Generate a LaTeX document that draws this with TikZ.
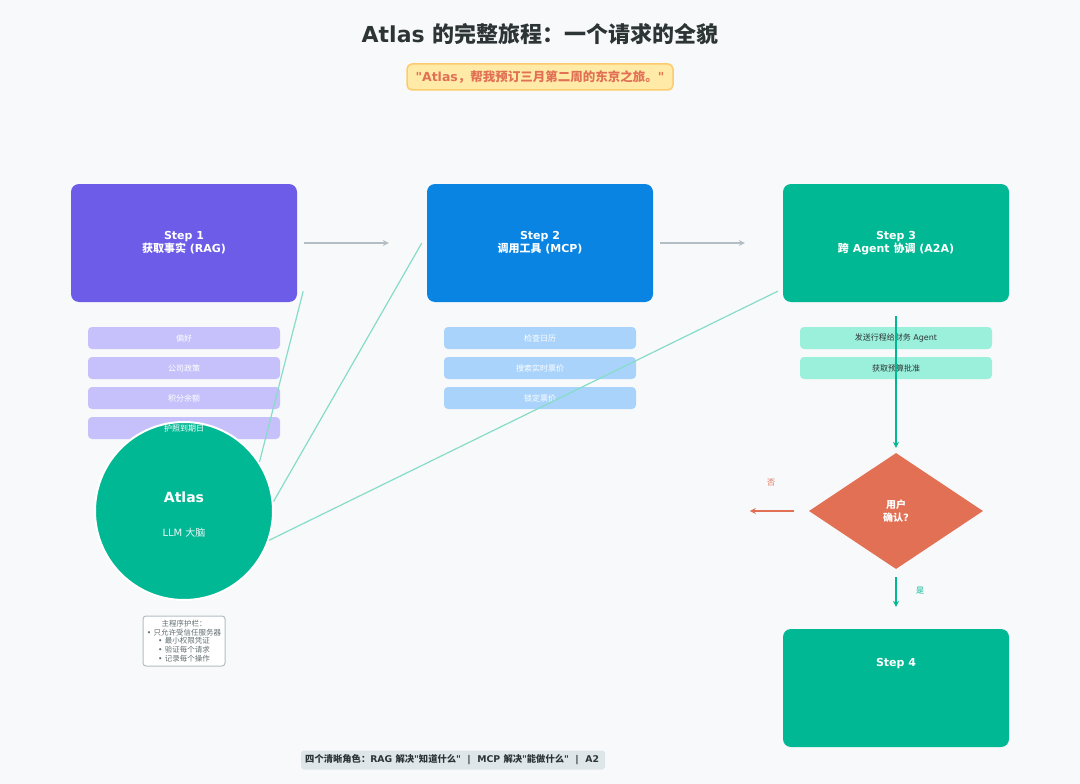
\documentclass[tikz,border=0pt]{standalone}
\usepackage{fontspec}
\setmainfont{DejaVu Sans}[Ligatures=TeXOff]
\newfontfamily\cjk{Noto Sans CJK SC}[Ligatures=TeXOff]
\usetikzlibrary{shapes.geometric,arrows.meta,calc}
\definecolor{bgc}{HTML}{F8F9FA}
\definecolor{purp}{HTML}{6C5CE7}
\definecolor{blu}{HTML}{0984E3}
\definecolor{grn}{HTML}{00B894}
\definecolor{org}{HTML}{E17055}
\definecolor{gry}{HTML}{B2BEC3}
\definecolor{dark}{HTML}{2D3436}
\definecolor{mid}{HTML}{636E72}
\definecolor{lpurp}{HTML}{C6C1FA}
\definecolor{lblu}{HTML}{A9D3FB}
\definecolor{lgrn}{HTML}{9AF0DA}
\definecolor{linec}{HTML}{86DCC9}
\definecolor{qfill}{HTML}{FFEAA7}
\definecolor{qdraw}{HTML}{FDCB6E}
\definecolor{capf}{HTML}{DFE6E9}
\tikzset{
  stepbox/.style={rounded corners=8pt, minimum width=226pt, minimum height=118pt, inner sep=0pt, text=white, font=\bfseries\fontsize{11}{13}\selectfont, align=center},
  subbox/.style={rounded corners=4pt, minimum width=192pt, minimum height=22pt, inner sep=0pt, text=white, font=\fontsize{8}{10}\selectfont},
  flowarrow/.style={gry, line width=2.5pt, -{Stealth[length=6pt,width=6pt]}},
  linkline/.style={linec, line width=1.2pt},
}
\begin{document}
\begin{tikzpicture}[x=1pt,y=-1pt]
\fill[bgc] (0,0) rectangle (1080,784);
\useasboundingbox (0,0) rectangle (1080,784);

% title
\node[text=dark, font=\bfseries\fontsize{22}{26}\selectfont] (title) at (540,34) {Atlas {\cjk\bfseries 的完整旅程：一个请求的全貌}};
\node[fill=qfill, draw=qdraw, line width=1.5pt, rounded corners=5pt, minimum width=266pt, minimum height=26pt, inner sep=0pt, text=org, font=\bfseries\fontsize{12.5}{15}\selectfont] (quote) at (540,77) {"Atlas{\cjk\bfseries ，帮我预订三月第二周的东京之旅。}"};

% steps
\node[stepbox, fill=purp] (s1) at (184,243) {Step 1\\{\cjk\bfseries 获取事实} (RAG)};
\node[stepbox, fill=blu] (s2) at (540,243) {Step 2\\{\cjk\bfseries 调用工具} (MCP)};
\node[stepbox, fill=grn] (s3) at (896,243) {Step 3\\{\cjk\bfseries 跨} Agent {\cjk\bfseries 协调} (A2A)};

\draw[flowarrow] ($(s1.east)+(7,0)$) -- ($(s2.west)+(-38,0)$);
\draw[flowarrow] ($(s2.east)+(7,0)$) -- ($(s3.west)+(-38,0)$);

% sub boxes step 1
\node[subbox, fill=lpurp] (a1) at (184,338) {\cjk 偏好};
\node[subbox, fill=lpurp] (a2) at (184,368) {\cjk 公司政策};
\node[subbox, fill=lpurp] (a3) at (184,398) {\cjk 积分余额};
\node[subbox, fill=lpurp] (a4) at (184,428) {};
% sub boxes step 2
\node[subbox, fill=lblu] (b1) at (540,338) {\cjk 检查日历};
\node[subbox, fill=lblu] (b2) at (540,368) {\cjk 搜索实时票价};
\node[subbox, fill=lblu] (b3) at (540,398) {\cjk 锁定票价};
% sub boxes step 3
\node[subbox, fill=lgrn, text=dark] (c1) at (896,338) {{\cjk 发送行程给财务} Agent};
\node[subbox, fill=lgrn, text=dark] (c2) at (896,368) {\cjk 获取预算批准};

% Atlas circle
\node[circle, fill=grn, draw=white, line width=2pt, minimum size=178pt, inner sep=0pt] (atlas) at (184,511) {};
\node[text=white, font=\fontsize{8}{10}\selectfont] (a4t) at (a4.center) {\cjk 护照到期日};
\node[text=white, font=\bfseries\fontsize{14}{16}\selectfont] (atlasname) at (184,497) {Atlas};
\node[text=white!92!grn, font=\fontsize{10}{12}\selectfont] (atlassub) at (184,533) {LLM {\cjk 大脑}};

\coordinate (e1) at ($(s1.south east)+(6,-11)$);
\coordinate (e2) at ($(s2.west)+(-5,0)$);
\coordinate (e3) at ($(s3.south west)+(-5,-11)$);
\draw[linkline] (atlas.33.5) -- (e1);
\draw[linkline] (atlas.6) -- (e2);
\draw[linkline] (atlas.-19) -- (e3);

% guardrail legend
\node[fill=white, draw=gry, line width=1pt, rounded corners=3pt, minimum width=82pt, minimum height=50pt, inner sep=1pt, text=mid, font=\fontsize{7.5}{8.6}\selectfont, align=center] (guard) at (184,641) {{\cjk 主程序护栏：}\\• {\cjk 只允许受信任服务器}\\• {\cjk 最小权限凭证}\\• {\cjk 验证每个请求}\\• {\cjk 记录每个操作}};

% decision
\node[diamond, fill=org, minimum width=174pt, minimum height=116pt, inner sep=0pt, text=white, font=\bfseries\fontsize{10}{12.5}\selectfont, align=center] (dia) at (896,511) {{\cjk\bfseries 用户}\\{\cjk\bfseries 确认}?};
\draw[grn, line width=2pt, -{Stealth[length=6pt,width=6pt]}] ($(s3.south)+(0,14)$) -- ($(dia.north)+(0,-5)$);

% step 4
\node[stepbox, fill=grn] (s4) at (896,688) {};
\node[text=white, font=\bfseries\fontsize{11}{13}\selectfont] (s4t) at (896,664) {Step 4};

\draw[org, line width=1.8pt, -{Stealth[length=6pt,width=6pt]}] ($(dia.west)+(-15,0)$) coordinate (nostart) -- ++(-44,0) coordinate (noend);
\node[text=org, font=\fontsize{8}{10}\selectfont] (nolab) at (771,483) {\cjk 否};
\draw[grn, line width=2pt, -{Stealth[length=6pt,width=6pt]}] ($(dia.south)+(0,8)$) -- ($(s4.north)+(0,-22)$);
\node[text=grn, font=\fontsize{8}{10}\selectfont] (yeslab) at (920,591) {\cjk 是};

% caption
\node[fill=capf, rounded corners=3pt, minimum width=300pt, minimum height=19pt, inner sep=0pt, text=dark, font=\bfseries\fontsize{9.3}{11}\selectfont, anchor=west] (cap) at (301,760) {\hspace*{4pt}{\cjk\bfseries 四个清晰角色：}RAG {\cjk\bfseries 解决}"{\cjk\bfseries 知道什么}"\ \ |\ \ MCP {\cjk\bfseries 解决}"{\cjk\bfseries 能做什么}"\ \ |\ \ A2\hspace*{6pt}};
\end{tikzpicture}
\end{document}
